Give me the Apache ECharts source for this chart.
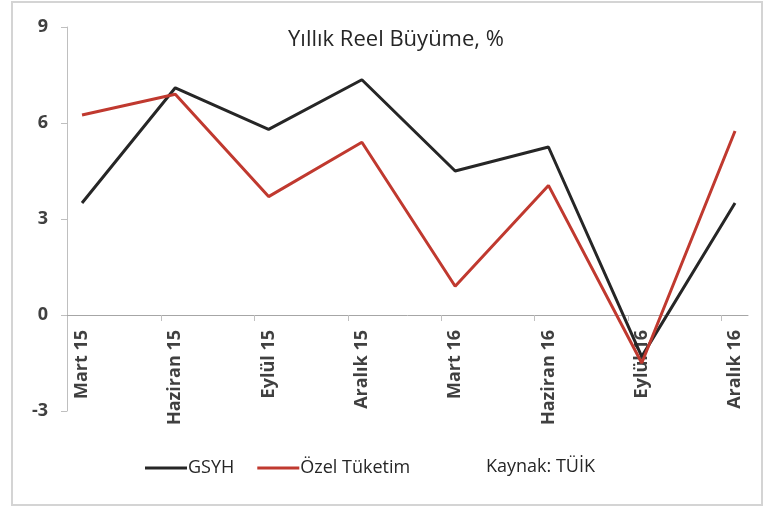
<!DOCTYPE html>
<html>
<head>
<meta charset="utf-8">
<script src="https://cdn.jsdelivr.net/npm/echarts@6/dist/echarts.min.js"></script>
<style>
html,body{margin:0;padding:0;background:#fff;}
#chart{width:765px;height:508px;}
</style>
</head>
<body>
<div id="chart"></div>
<script>
var categories = ['Mart 15','Haziran 15','Eylül 15','Aralık 15','Mart 16','Haziran 16','Eylül 16','Aralık 16'];
var gsyh = [3.5, 7.1, 5.8, 7.35, 4.5, 5.25, -1.3, 3.5];
var ozelTuketim = [6.25, 6.9, 3.7, 5.4, 0.9, 4.05, -1.5, 5.75];
var yTicks = [-3, 0, 3, 6, 9];
var titleText = 'Yıllık Reel Büyüme, %';
var sourceText = 'Kaynak: TÜİK';

var FONT = 'Open Sans';
function pairs(arr){ return arr.map(function(v,i){ return [i, v]; }); }
var labelPos = categories.map(function(c,i){ return i; });
var tickPos = categories.slice(1).map(function(c,i){ return i + 0.85; });

var chart = echarts.init(document.getElementById('chart'), null, {renderer:'canvas'});
chart.setOption({
  backgroundColor:'#ffffff',
  animation:false,
  title:{
    text:titleText, left:391, top:24, textAlign:'center',
    textStyle:{fontFamily:FONT, fontSize:22, fontWeight:'normal', color:'#262626'}
  },
  grid:{left:67, right:17, top:27, bottom:97, containLabel:false},
  legend:{
    left:140, top:454, itemWidth:42, itemHeight:3, itemGap:23, icon:'rect',
    textStyle:{fontFamily:FONT, fontSize:18, color:'#262626', padding:[0,0,0,-4]},
    data:['GSYH','Özel Tüketim']
  },
  xAxis:{
    type:'value', min:-0.161, max:7.139,
    position:'bottom', offset:-96,
    axisLine:{onZero:false, lineStyle:{color:'#a6a6a6', width:1}},
    axisTick:{show:true, customValues:tickPos, length:6, lineStyle:{color:'#c0c0c0'}},
    axisLabel:{
      customValues:labelPos, rotate:90, margin:15,
      fontFamily:FONT, fontSize:18, fontWeight:'bold', color:'#404040',
      formatter:function(v){ return categories[Math.round(v)]; }
    },
    splitLine:{show:false}
  },
  yAxis:{
    type:'value', min:-3, max:9, interval:3,
    axisLine:{show:true, onZero:false, lineStyle:{color:'#bfbfbf', width:1}},
    axisTick:{show:true, length:6, lineStyle:{color:'#bfbfbf'}},
    axisLabel:{margin:19, fontFamily:FONT, fontSize:18, fontWeight:'bold', color:'#404040',
      customValues:yTicks},
    splitLine:{show:false}
  },
  series:[
    {name:'GSYH', type:'line', data:pairs(gsyh), symbol:'none',
     lineStyle:{color:'#262626', width:3}, itemStyle:{color:'#262626'}},
    {name:'Özel Tüketim', type:'line', data:pairs(ozelTuketim), symbol:'none',
     lineStyle:{color:'#c0392f', width:3}, itemStyle:{color:'#c0392f'}}
  ],
  graphic:[
    {type:'rect', shape:{x:12, y:2, width:750, height:503}, silent:true,
     style:{fill:'none', stroke:'#d4d4d4', lineWidth:2}},
    {type:'text', x:486, y:467,
     style:{text:sourceText, fontFamily:FONT, fontSize:18, fill:'#262626', verticalAlign:'middle'}}
  ]
});
</script>
</body>
</html>
